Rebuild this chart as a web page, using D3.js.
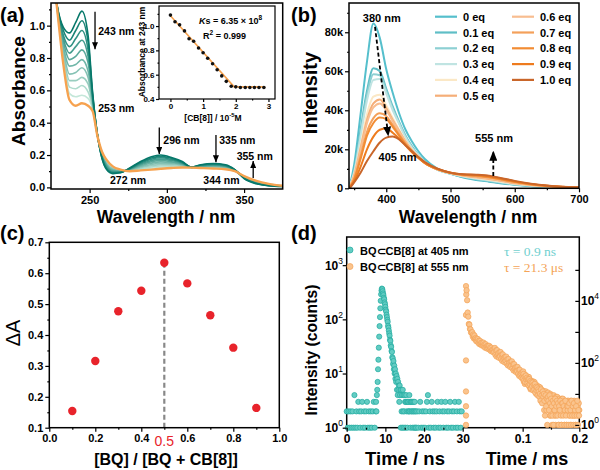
<!DOCTYPE html>
<html><head><meta charset="utf-8">
<script src="https://cdn.jsdelivr.net/npm/d3@7"></script>
<style>body{margin:0;background:#fff}</style>
</head><body><svg id="c" width="600" height="470"></svg>
<script>
// ---------- DATA (a) UV-vis ----------
const uvWl = [225,229,233,237,241,245,249,252,255,258,261,265,270,276,283,290,296,303,310,316,322,330,338,344,350,358,366,375];
const uv0 = [1.40,1.12,0.99,0.955,1.02,1.09,0.94,0.58,0.33,0.18,0.11,0.085,0.09,0.12,0.16,0.19,0.20,0.185,0.16,0.125,0.14,0.148,0.14,0.11,0.055,0.022,0.01,0.006];
const uv1 = [1.41,1.12,0.97,0.91,0.97,1.03,0.90,0.57,0.33,0.18,0.115,0.09,0.092,0.118,0.155,0.182,0.192,0.179,0.156,0.125,0.138,0.145,0.137,0.109,0.057,0.024,0.011,0.006];
const uv2 = [1.41,1.12,0.94,0.87,0.92,0.97,0.85,0.56,0.33,0.19,0.12,0.094,0.094,0.116,0.149,0.174,0.183,0.172,0.153,0.125,0.136,0.142,0.134,0.108,0.058,0.026,0.012,0.007];
const uv3 = [1.42,1.12,0.92,0.83,0.87,0.91,0.81,0.55,0.33,0.19,0.13,0.098,0.096,0.114,0.144,0.166,0.175,0.166,0.149,0.124,0.134,0.139,0.132,0.107,0.06,0.027,0.014,0.007];
const uv4 = [1.42,1.11,0.90,0.79,0.81,0.85,0.77,0.54,0.33,0.20,0.135,0.103,0.098,0.112,0.138,0.158,0.166,0.159,0.145,0.124,0.132,0.136,0.129,0.106,0.061,0.029,0.015,0.008];
const uv5 = [1.43,1.11,0.87,0.75,0.76,0.79,0.72,0.53,0.33,0.20,0.14,0.107,0.10,0.11,0.133,0.15,0.158,0.153,0.142,0.124,0.13,0.133,0.126,0.105,0.063,0.031,0.016,0.008];
const uv6 = [1.43,1.11,0.85,0.70,0.71,0.74,0.68,0.51,0.32,0.20,0.145,0.112,0.102,0.108,0.127,0.142,0.149,0.146,0.138,0.123,0.128,0.129,0.123,0.104,0.064,0.033,0.017,0.008];
const uv7 = [1.44,1.11,0.83,0.66,0.66,0.68,0.64,0.50,0.32,0.21,0.15,0.116,0.104,0.106,0.122,0.134,0.141,0.14,0.134,0.123,0.126,0.126,0.12,0.103,0.066,0.035,0.018,0.009];
const uv8 = [1.44,1.10,0.81,0.62,0.61,0.63,0.59,0.49,0.32,0.21,0.16,0.121,0.106,0.104,0.116,0.126,0.132,0.133,0.13,0.123,0.124,0.123,0.118,0.102,0.067,0.036,0.02,0.009];
const uv9 = [1.45,1.10,0.78,0.58,0.56,0.57,0.55,0.48,0.32,0.22,0.165,0.125,0.108,0.102,0.111,0.118,0.124,0.127,0.127,0.122,0.122,0.12,0.115,0.101,0.069,0.038,0.021,0.01];
const uv10 = [1.45,1.10,0.76,0.54,0.505,0.52,0.505,0.47,0.32,0.22,0.17,0.13,0.11,0.10,0.105,0.11,0.115,0.12,0.123,0.122,0.12,0.117,0.112,0.10,0.07,0.04,0.022,0.01];
const uvTeal = [uv0,uv1,uv2,uv3,uv4,uv5,uv6,uv7,uv8,uv9];
const uvNotes = [{t:"243 nm",x:255.6,y:0.942},{t:"253 nm",x:255.6,y:0.468},{t:"296 nm",x:297.7,y:0.268},{t:"335 nm",x:333.9,y:0.268},{t:"355 nm",x:345.2,y:0.169},{t:"272 nm",x:263.2,y:0.019},{t:"344 nm",x:323.6,y:0.019}];
const uvArrows = [{x:253.5,y0:1.086,y1:0.854},{x:295.1,y0:0.371,y1:0.206},{x:331.8,y0:0.324,y1:0.155},{x:355.9,y0:0.058,y1:0.163}];
// inset
const insX = [0,0.14,0.28,0.43,0.57,0.71,0.86,1.0,1.14,1.29,1.43,1.57,1.71,1.86,2.0,2.14,2.29,2.43,2.57,2.71,2.86];
const insY = [1.09,1.035,1.01,0.96,0.895,0.875,0.82,0.78,0.735,0.69,0.64,0.59,0.545,0.505,0.50,0.495,0.495,0.495,0.495,0.495,0.495];
const fitX = [0,1.95,2.9];
const fitY = [1.085,0.5,0.5];

// ---------- DATA (b) fluorescence (k counts) ----------
const flWl = [343,350,360,370,380,390,400,410,420,430,440,450,460,480,500,520,540,560,580,600,625,650,675,700];
const fl0 = [1,12,38,65,84.5,77,61,49,38.5,30,24,19,15,10,7.5,5.5,4.3,3.4,2.5,1.8,1.1,0.7,0.4,0.3];
const fl1 = [1,9,30,50,61.5,60,51,42,34,27,21.5,17,13.5,9.5,7.5,5.8,4.6,3.6,2.7,1.9,1.2,0.8,0.5,0.3];
const fl2 = [1,8.5,28,47.5,58.5,58,50,41,33.5,26.5,21,17,13.5,9.5,7.5,6,4.8,3.9,2.9,2.0,1.3,0.8,0.5,0.3];
const fl3 = [1,8,26.5,45,55.5,56,48.5,40,33,26,20.8,16.8,13.4,9.5,7.6,6.1,5.0,4.1,3.1,2.2,1.4,0.9,0.5,0.3];
const fl4 = [0.8,7,22,38,47,48,42.5,36,30,24.5,20,16.3,13.2,9.6,7.7,6.3,5.3,4.4,3.4,2.4,1.5,0.9,0.6,0.35];
const fl5 = [0.7,6.5,20.5,35,43.5,45.5,41,35,29.5,24,19.6,16,13,9.6,7.8,6.5,5.6,4.8,3.7,2.6,1.7,1.0,0.6,0.35];
const fl6 = [0.7,6,19.5,33.5,41.5,43.5,40,34.5,29,23.8,19.5,16,13,9.7,7.8,6.6,5.8,5.0,3.9,2.8,1.8,1.1,0.6,0.4];
const fl7 = [0.5,5,16.5,29,36,38.5,37,32.5,27.5,23,19,15.8,13,9.8,7.9,6.8,6.2,5.5,4.3,3.1,2.0,1.2,0.7,0.4];
const fl8 = [0.5,4.5,15,27,33.5,36.3,35.5,31.5,27,22.5,18.8,15.7,13,9.8,8,7,6.5,5.8,4.6,3.3,2.1,1.3,0.7,0.45];
const fl9 = [0.3,3.5,11,20,26.5,30,30.7,28.5,25.5,22,18.5,15.5,13,9.9,8,7.1,6.8,6.2,4.9,3.5,2.2,1.3,0.8,0.45];
const fl10 = [0,3,8,14,19,23.5,26,26.5,25,22,19,16,13.5,10,8,7.2,7,6.5,5.2,3.8,2.4,1.4,0.8,0.5];
const flSeries = [fl0,fl1,fl2,fl3,fl4,fl5,fl6,fl7,fl8,fl9,fl10];
const flLabels = ["0 eq","0.1 eq","0.2 eq","0.3 eq","0.4 eq","0.5 eq","0.6 eq","0.7 eq","0.8 eq","0.9 eq","1.0 eq"];
const flColors = ["#55bfcc","#5fbec6","#8dd0d3","#c0e4e2","#fbe8c6","#f5ae78","#f8bd90","#f4a05a","#f28c33","#ee7b1e","#c9662a"];
const flNotes = [{t:"380 nm",x:393,y:85.5},{t:"405 nm",x:417.5,y:14},{t:"555 nm",x:567.7,y:23.6}];
const flArrows = [{x0:382.5,y0:82.8,x1:403.2,y1:26.5},{x0:566.6,y0:6.3,x1:566.6,y1:19.3}];

// ---------- DATA (c) Job plot ----------
const jobX = [0.1,0.2,0.3,0.4,0.5,0.6,0.7,0.8,0.9];
const jobY = [0.154,0.316,0.477,0.543,0.634,0.567,0.464,0.359,0.164];

// ---------- DATA (d) decays ----------
// teal (ns): channel segments {start, step, counts}
const tealSeg1 = {start:0, step:0.25, counts:[2,1,2,1,2,1,2,1,4,1,2,1,3,2,1,2,3,1,2,1,2,3,1,2,1,2,1,2,3,1]};
const tealSeg2 = {start:7.5, step:0.1, counts:[2,3,2,4,5,7,12,18,30,48,75,110,160,220,290,340,370,360,330,300,280,250,235,205,190,170,150,140,122,110,98,90,76,70,62,55,50,42,40,33,31,26,25,20,19,15,17,12,14,10,12,8,10,7,9,5,8,4,7,5,6,3,6,4,5,1,5,2,4,1,5,2,4,1,2,4,3,1,3,4,2,3,1,3,2,3,2,4,2,3,1,3,2,3,2,3,1,2,3,2,1,3,2,1,2]};
const tealSeg3 = {start:18, step:0.25, counts:[1,2,1,2,3,1,2,1,2,1,2,3,4,1,2,1,3,2,1,2,1,2,3,1,2,1,3,2,1,2,3,1,2,1,2,3,1,2,1,2,3,1,2,1,3,2,1,2]};
// orange (ms)
const orangeRiseT = [0,0,0,0,0,0,0,0.0005];
const orangeRiseC = [30000,120,12,4,2,1,3500,16000];
const orangeSeg = {start:0.001, step:0.001, counts:[
22000,10500,4200,3100,1800,1700,1250,1200,950,920,
978,704,821,612,762,589,634,505,605,494,
587,436,518,400,510,409,447,365,451,376,
449,334,400,306,398,317,348,285,352,297,
354,264,315,241,309,247,271,221,272,226,
303,181,252,160,258,176,204,147,220,164,
224,133,185,116,188,128,147,105,156,116,
159,94,131,83,133,90,104,74,110,82,
112,66,91,57,91,62,70,51,74,55,
74,44,60,38,60,40,46,33,49,37,
53,25,41,21,41,26,32,21,36,23,
35,17,28,14,27,17,22,14,25,16,
24,12,19,10,19,12,15,10,17,11,
16,8,13,7,13,9,11,3,12,8,
12,3,10,5,11,7,9,2,10,6,
9,1,8,3,9,2,7,1,8,5,
8,3,6,1,7,4,6,1,7,4,
7,3,5,1,6,3,5,1,6,4,
6,2,5,1,6,3,4,2,5,3,
6,2,4,1,5,3,4,2,5,3]};
const orangeTailSeg = {start:0.1005, step:0.001, counts:[
31,44,27,36,24,39,29,33,22,30,
19,30,21,26,15,24,18,23,13,20,
14,21,11,17,13,16,9,14,12,8,
10,6,14,9,5,12,8,10,6,2,
9,4,7,1,8,6,3,9,5,2,
7,4,2,6,1,5,3,7,2,4,
6,2,5,1,4,3,6,2,1,5,
5,2,4,1,3,6,2,1,4,3,
4,1,5,2,3,1,6,2,4,1,
5,2,3,1,4,2,6,1,3,2]};

// ---------- DRAW ----------
const FONT = '"Liberation Sans", Arial, Helvetica, sans-serif';
const svg = d3.select("#c");
const defs = svg.append("defs");
function marker(id, w, h){
  defs.append("marker").attr("id",id).attr("markerUnits","userSpaceOnUse")
    .attr("markerWidth",w).attr("markerHeight",h).attr("refX",w).attr("refY",h/2).attr("orient","auto")
    .append("path").attr("d",`M0,0L${w},${h/2}L0,${h}Z`).attr("fill","#000");
}
marker("ahA",7,6); marker("ahB",10,8);
function clip(id,x0,y0,x1,y1){ defs.append("clipPath").attr("id",id).append("rect").attr("x",x0).attr("y",y0).attr("width",x1-x0).attr("height",y1-y0); }
function frame(x0,y0,x1,y1,w){ svg.append("rect").attr("x",x0).attr("y",y0).attr("width",x1-x0).attr("height",y1-y0).attr("fill","none").attr("stroke","#000").attr("stroke-width",w||1.5); }
function addAxis(orient, scale, pos, vals, fmt, size, fs, pad){
  const gen = orient==="bottom"?d3.axisBottom:(orient==="left"?d3.axisLeft:d3.axisRight);
  const ax = gen(scale).tickValues(vals).tickSize(size).tickPadding(pad==null?2:pad).tickFormat(fmt||(()=>""));
  const g = svg.append("g").attr("transform", orient==="bottom"?`translate(0,${pos})`:`translate(${pos},0)`).call(ax);
  g.select(".domain").remove();
  g.selectAll(".tick line").attr("stroke","#000").attr("stroke-width",1.2);
  g.selectAll(".tick text").attr("font-size",fs).attr("font-weight","bold").attr("font-family",FONT).attr("fill","#000");
  return g;
}
function txt(x,y,s,o){ o=o||{};
  const t = svg.append("text").attr("x",x).attr("y",y).attr("font-family",o.family||FONT).attr("font-size",o.fs||11)
    .attr("font-weight",o.weight||"bold").attr("fill",o.fill||"#000").attr("text-anchor",o.anchor||"start");
  if(s!=null) t.text(s);
  if(o.rot) t.attr("transform",`rotate(-90,${x},${y})`);
  return t;
}
const f1 = d3.format(".1f");

// ===== (a) =====
const ax = d3.scaleLinear().domain([225,375]).range([51,282.7]);
const ay = d3.scaleLinear().domain([-0.01,1.14]).range([189,3]);
clip("clipA",51,3,282.7,189);
const uvLine = d3.line().x((d,i)=>ax(uvWl[i])).y(d=>ay(d)).curve(d3.curveMonotoneX);
const gA = svg.append("g").attr("clip-path","url(#clipA)");
const tealCol = d3.interpolateRgb("#06786a","#c4e7d9");
for(let k=uvTeal.length-1;k>=0;k--){
  gA.append("path").attr("d",uvLine(uvTeal[k])).attr("fill","none").attr("stroke",tealCol(k/9)).attr("stroke-width",1.6);
}
gA.append("path").attr("d",uvLine(uv10)).attr("fill","none").attr("stroke","#f6a24f").attr("stroke-width",2.4);
frame(51,3,282.7,189);
addAxis("left",ay,51,[0,0.2,0.4,0.6,0.8,1.0],f1,4,11,2);
addAxis("left",ay,51,[0.1,0.3,0.5,0.7,0.9,1.1],null,2,11);
addAxis("bottom",ax,189,[250,300,350],d3.format("d"),4,11,3);
addAxis("bottom",ax,189,[275,325],null,2,11);
uvArrows.forEach(a=>{
  svg.append("line").attr("x1",ax(a.x)).attr("x2",ax(a.x)).attr("y1",ay(a.y0)).attr("y2",ay(a.y1))
    .attr("stroke","#000").attr("stroke-width",1.3).attr("marker-end","url(#ahA)");
});
uvNotes.forEach(n=>txt(ax(n.x),ay(n.y),n.t,{fs:10.5}));
txt(25,91,"Absorbance",{fs:19,anchor:"middle",rot:true});
txt(166,223,"Wavelength / nm",{fs:17.5,anchor:"middle"});
txt(0,22,"(a)",{fs:20});

// inset
const ix = d3.scaleLinear().domain([-0.35,3.2]).range([159,275]);
const iy = d3.scaleLinear().domain([0.4,1.165]).range([99,6]);
svg.append("rect").attr("x",159).attr("y",6).attr("width",116).attr("height",93).attr("fill","#fff");
svg.append("path").attr("d",d3.line().x((d,i)=>ix(fitX[i])).y(d=>iy(d))(fitY)).attr("fill","none").attr("stroke","#f6a24f").attr("stroke-width",1.6);
svg.selectAll(".ins").data(insY).join("circle").attr("cx",(d,i)=>ix(insX[i])).attr("cy",d=>iy(d)).attr("r",1.8).attr("fill","#111");
frame(159,6,275,99,1.2);
addAxis("left",iy,159,[0.4,0.6,0.8,1.0],f1,3,8,1.5);
addAxis("left",iy,159,[0.5,0.7,0.9,1.1],null,1.5,8);
addAxis("bottom",ix,99,[0,1,2,3],d3.format("d"),3,8,1);
addAxis("bottom",ix,99,[0.5,1.5,2.5],null,1.5,8);
txt(145,52,"Absorbance at 243 nm",{fs:8.5,anchor:"middle",rot:true});
{ const t = txt(213,120.5,null,{fs:8.5,anchor:"middle"}); t.append("tspan").text("[CB[8]] / 10");
  t.append("tspan").attr("dy",-3.5).attr("font-size",6).text("-5"); t.append("tspan").attr("dy",3.5).text("M"); }
{ const t = txt(199,23.5,null,{fs:9}); t.append("tspan").attr("font-style","italic").text("K");
  t.append("tspan").text("s = 6.35 \u00d7 10"); t.append("tspan").attr("dy",-4).attr("font-size",6.5).text("8"); }
{ const t = txt(203,38.5,null,{fs:9}); t.append("tspan").text("R");
  t.append("tspan").attr("dy",-4).attr("font-size",6.5).text("2"); t.append("tspan").attr("dy",4).text(" = 0.999"); }

// ===== (b) =====
const bx = d3.scaleLinear().domain([342,700]).range([349,579]);
const by = d3.scaleLinear().domain([0,95]).range([188.3,3]);
clip("clipB",349,3,579,188.3);
const flLine = d3.line().x((d,i)=>bx(flWl[i])).y(d=>by(d)).curve(d3.curveMonotoneX);
const gB = svg.append("g").attr("clip-path","url(#clipB)");
flSeries.forEach((s,k)=>{
  gB.append("path").attr("d",flLine(s)).attr("fill","none").attr("stroke",flColors[k]).attr("stroke-width",2);
});
frame(349,3,579,188.3);
addAxis("left",by,349,[0,20,40,60,80],d=>d===0?"0":d+"k",4,11,2);
addAxis("left",by,349,[10,30,50,70,90],null,2,11);
addAxis("bottom",bx,188.3,[400,500,600,700],d3.format("d"),4,11,3);
addAxis("bottom",bx,188.3,[350,450,550,650],null,2,11);
flArrows.forEach(a=>{
  svg.append("line").attr("x1",bx(a.x0)).attr("y1",by(a.y0)).attr("x2",bx(a.x1)).attr("y2",by(a.y1))
    .attr("stroke","#000").attr("stroke-width",1.8).attr("stroke-dasharray","4,2.5").attr("marker-end","url(#ahB)");
});
flNotes.forEach(n=>txt(bx(n.x),by(n.y),n.t,{fs:11,anchor:"middle"}));
flLabels.forEach((l,k)=>{
  const col = k<6?0:1, row = k<6?k:k-6;
  const x0 = col?512:435, y0 = 16.7 + row*15.8;
  svg.append("line").attr("x1",x0).attr("x2",x0+22).attr("y1",y0).attr("y2",y0).attr("stroke",flColors[k]).attr("stroke-width",2.2);
  txt(x0+28,y0+4,l,{fs:11});
});
txt(317,93,"Intensity",{fs:20,anchor:"middle",rot:true});
txt(468,223,"Wavelength / nm",{fs:17.5,anchor:"middle"});
txt(291,22,"(b)",{fs:20});

// ===== (c) =====
const cx = d3.scaleLinear().domain([0,1]).range([49.3,279.3]);
const cy = d3.scaleLinear().domain([0.1,0.7]).range([427.7,242.3]);
svg.append("line").attr("x1",cx(0.5)).attr("x2",cx(0.5)).attr("y1",cy(0.1)).attr("y2",cy(jobY[4]))
  .attr("stroke","#888").attr("stroke-width",2.2).attr("stroke-dasharray","5,3");
svg.selectAll(".job").data(jobY).join("circle").attr("cx",(d,i)=>cx(jobX[i])).attr("cy",d=>cy(d)).attr("r",4.2).attr("fill","#e8232b");
frame(49.3,242.3,279.3,427.7);
addAxis("left",cy,49.3,[0.1,0.2,0.3,0.4,0.5,0.6,0.7],f1,4,11,2);
addAxis("left",cy,49.3,[0.15,0.25,0.35,0.45,0.55,0.65],null,2,11);
addAxis("bottom",cx,427.7,[0,0.2,0.4,0.6,0.8,1.0],f1,4,11,3);
addAxis("bottom",cx,427.7,[0.1,0.3,0.5,0.7,0.9],null,2,11);
txt(cx(0.5),445.5,"0.5",{fs:14,weight:"normal",fill:"#e8232b",anchor:"middle"});
txt(20,333,"\u0394A",{fs:20,anchor:"middle",rot:true,weight:"normal"});
txt(166,464.5,"[BQ] / [BQ + CB[8]]",{fs:16,anchor:"middle"});
txt(0,240,"(c)",{fs:20});

// ===== (d) =====
const dxL = d3.scaleLinear().domain([0,30]).range([346.7,462.7]);
const dxR = d3.scaleLinear().domain([0,0.2]).range([466,579.3]);
const dyL = d3.scaleLog().domain([1,Math.pow(10,3.52)]).range([427.7,237]);
const dyR = d3.scaleLog().domain([Math.pow(10,-0.09),Math.pow(10,6.06)]).range([427.7,237]);
frame(346.7,237,579.3,427.7);
const tealPts = [];
[tealSeg1,tealSeg2,tealSeg3].forEach(s=>s.counts.forEach((c,i)=>tealPts.push({t:s.start+i*s.step,c})));
const orPts = orangeRiseT.map((t,i)=>({t,c:orangeRiseC[i]}));
[orangeSeg,orangeTailSeg].forEach(s=>s.counts.forEach((c,i)=>orPts.push({t:s.start+i*s.step,c})));
svg.append("g").selectAll("circle").data(tealPts).join("circle").attr("cx",d=>dxL(d.t)).attr("cy",d=>dyL(d.c)).attr("r",2.6)
  .attr("fill","#63ccc3").attr("stroke","#20aa9f").attr("stroke-width",0.7);
svg.append("g").selectAll("circle").data(orPts).join("circle").attr("cx",d=>dxR(d.t)).attr("cy",d=>dyR(d.c)).attr("r",2.7)
  .attr("fill","#fac48e").attr("stroke","#f4a457").attr("stroke-width",0.7);
addAxis("bottom",dxL,427.7,[0,10,20,30],d3.format("d"),4,12,3);
addAxis("bottom",dxL,427.7,[5,15,25],null,2,12);
addAxis("bottom",dxR,427.7,[0.1,0.2],f1,4,12,3);
addAxis("bottom",dxR,427.7,[0.05,0.15],null,2,12);
addAxis("left",dyL,346.7,[1,10,100,1000],null,4,12);
addAxis("left",dyR,579.3,[1,10,100,1000,10000,100000],null,4,12);
function pow10(x,y,e,anchor){
  const t = txt(x,y,null,{fs:12,anchor}); t.append("tspan").text("10");
  t.append("tspan").attr("dy",-6).attr("font-size",8.5).attr("font-weight","normal").text(e);
}
[1,10,100,1000].forEach((v,i)=>pow10(343,dyL(v)+4.5,String(i),"end"));
[1,100,10000].forEach((v,i)=>pow10(581,dyR(v)+4.5,String(i*2),"start"));
svg.append("circle").attr("cx",350).attr("cy",250).attr("r",3).attr("fill","#63ccc3").attr("stroke","#20aa9f").attr("stroke-width",0.7);
svg.append("circle").attr("cx",350).attr("cy",266.5).attr("r",3).attr("fill","#fac48e").attr("stroke","#f4a457").attr("stroke-width",0.7);
txt(360,254.5,"BQ\u2282CB[8] at 405 nm",{fs:11});
txt(360,271,"BQ\u2282CB[8] at 555 nm",{fs:11});
txt(504,255.5,"\u03c4 = 0.9 ns",{fs:13.5,weight:"normal",family:'"Liberation Serif","Times New Roman",serif',fill:"#72d0cf"});
txt(504,272,"\u03c4 = 21.3 \u03bcs",{fs:13.5,weight:"normal",family:'"Liberation Serif","Times New Roman",serif',fill:"#f4a457"});
txt(317,350,"Intensity (counts)",{fs:15.7,anchor:"middle",rot:true});
txt(405,465,"Time / ns",{fs:18.5,anchor:"middle"});
txt(527,465,"Time / ms",{fs:18,anchor:"middle"});
txt(291,240,"(d)",{fs:20});
</script></body></html>
